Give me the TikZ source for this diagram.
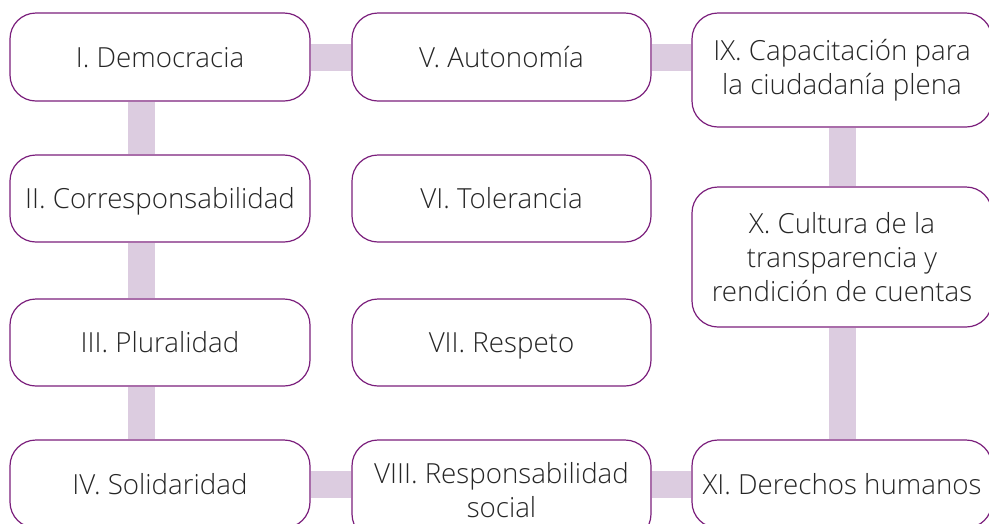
\documentclass[tikz,border=0pt]{standalone}
\usepackage{fontspec}
\setmainfont{Open Sans Light}
\usepackage{xcolor}
\usepackage{tikz}
\usetikzlibrary{backgrounds}
\definecolor{boxline}{HTML}{7B1F7C}
\definecolor{linkfill}{HTML}{DCCCE0}
\definecolor{boxtext}{HTML}{262626}
\tikzset{valbox/.style = {rectangle, rounded corners=26pt, draw=boxline, line width=1.2pt, fill=white, text=boxtext, align=center, inner sep=0pt, minimum width=300pt, minimum height=88pt, font=\fontsize{27.7}{34}\selectfont}}
\tikzset{oneline/.style = {valbox, text height=20pt, text depth=0pt}}
\tikzset{link/.style = {-, draw=linkfill, line width=27pt}}

\begin{document}
\begin{tikzpicture}[x=1pt, y=-1pt]
\useasboundingbox (0, 0) rectangle (989, 523);
\node [oneline] (I) at (160, 57) {I. Democracia};
\node [oneline, minimum height=87pt] (II) at (160, 198.5) {II. Corresponsabilidad};
\node [oneline, minimum height=87pt] (III) at (160, 342.5) {III. Pluralidad};
\node [oneline] (IV) at (160, 484) {IV. Solidaridad};
\node [oneline, minimum width=299pt] (V) at (501.5, 57) {V. Autonomía};
\node [oneline, minimum width=299pt, minimum height=87pt] (VI) at (501.5, 198.5) {VI. Tolerancia};
\node [oneline, minimum width=299pt, minimum height=87pt] (VII) at (501.5, 342.5) {VII. Respeto};
\node [valbox, minimum width=299pt, minimum height=100pt] (VIII) at (501.5, 490) {VIII. Responsabilidad\\social};
\node [valbox, minimum height=114pt] (IX) at (842, 70) {IX. Capacitación para\\la ciudadanía plena};
\node [valbox, minimum height=140pt] (X) at (842, 257) {X. Cultura de la\\transparencia y\\rendición de cuentas};
\node [oneline] (XI) at (842, 484) {XI. Derechos humanos};
\begin{scope}[on background layer]
\draw [link] (I.east) to (V.west);
\draw [link] (V.east) to (IX.west |- V.east);
\draw [link] ([xshift=-19pt]I.south) to ([xshift=-19pt]II.north);
\draw [link] ([xshift=-19pt]II.south) to ([xshift=-19pt]III.north);
\draw [link] ([xshift=-19pt]III.south) to ([xshift=-19pt]IV.north);
\draw [link] (IX.south) to (X.north);
\draw [link] (X.south) to (XI.north);
\draw [link] (IV.east) to (VIII.west |- IV.east);
\draw [link] (VIII.east |- XI.west) to (XI.west);
\end{scope}
\end{tikzpicture}
\end{document}
